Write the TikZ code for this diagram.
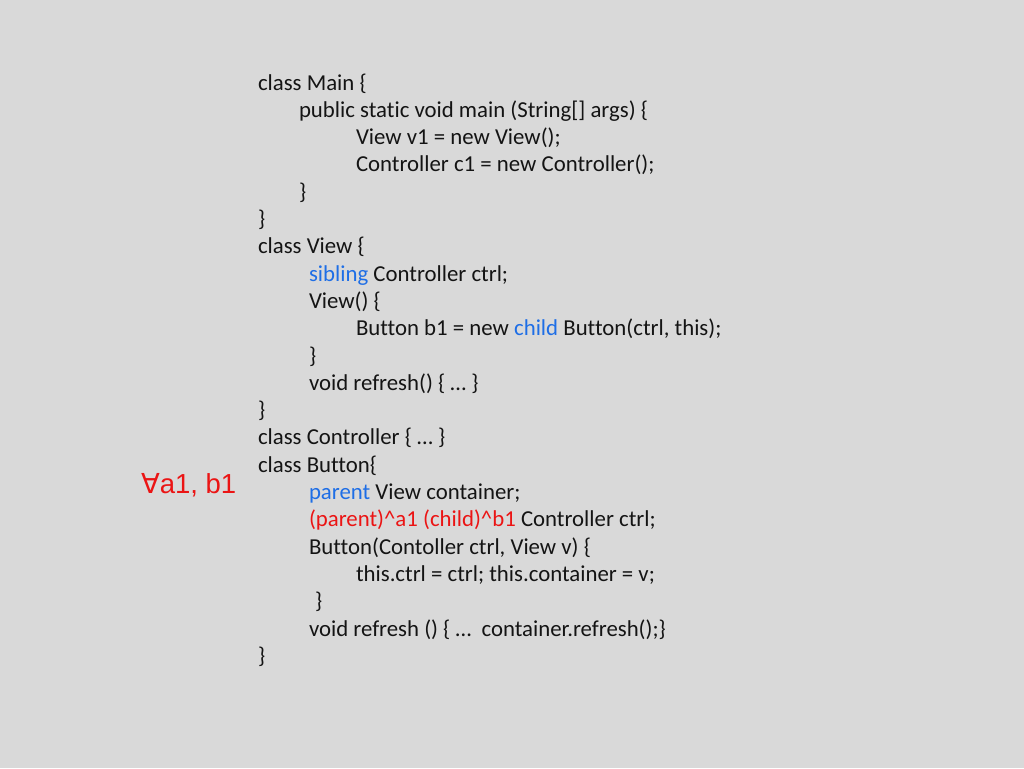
\documentclass[tikz,border=0pt]{standalone}
\usepackage{fontspec}
\setmainfont{Carlito}[RawFeature={-liga;-clig;-calt;-dlig}]
\newfontfamily\arialf{Liberation Sans}
\newfontfamily\dejavuf{DejaVu Sans}
\definecolor{bgcol}{RGB}{217,217,217}
\definecolor{txtcol}{RGB}{20,20,20}
\definecolor{kwblue}{RGB}{30,110,230}
\definecolor{kwred}{RGB}{235,20,20}
\begin{document}
\begin{tikzpicture}[x=1pt,y=-1pt,
  codeline/.style={anchor=base west,inner sep=0pt,outer sep=0pt,text=txtcol,
    font=\fontsize{22.8}{27.3}\selectfont},
  forall/.style={anchor=base west,inner sep=0pt,outer sep=0pt,text=kwred,
    font=\fontsize{27.5}{31}\selectfont\arialf}]
\fill[bgcol] (0,0) rectangle (1024,768);
\useasboundingbox (0,0) rectangle (1024,768);
\def\ls{27.3}
\node[codeline] (l1)  at (258, 90) {class Main \{};
\node[codeline] (l2)  at (299, 90+1*\ls) {public static void main (String[] args) \{};
\node[codeline] (l3)  at (356, 90+2*\ls) {View v1 = new View();};
\node[codeline] (l4)  at (356, 90+3*\ls) {Controller c1 = new Controller();};
\node[codeline] (l5)  at (299, 90+4*\ls) {\}};
\node[codeline] (l6)  at (258, 90+5*\ls) {\}};
\node[codeline] (l7)  at (258, 90+6*\ls) {class View \{};
\node[codeline] (l8)  at (309, 90+7*\ls) {\textcolor{kwblue}{sibling} Controller ctrl;};
\node[codeline] (l9)  at (309, 90+8*\ls) {View() \{};
\node[codeline] (l10) at (356, 90+9*\ls) {Button b1 = new \textcolor{kwblue}{child} Button(ctrl, this);};
\node[codeline] (l11) at (309, 90+10*\ls) {\}};
\node[codeline] (l12) at (309, 90+11*\ls) {void refresh() \{ … \}};
\node[codeline] (l13) at (258, 90+12*\ls) {\}};
\node[codeline] (l14) at (258, 90+13*\ls) {class Controller \{ … \}};
\node[codeline] (l15) at (258, 90+14*\ls) {class Button\{};
\node[codeline] (l16) at (309, 90+15*\ls) {\textcolor{kwblue}{parent} View container;};
\node[codeline] (l17) at (309, 90+16*\ls) {\textcolor{kwred}{(parent)\^{}a1 (child)\^{}b1} Controller ctrl;};
\node[codeline] (l18) at (309, 90+17*\ls) {Button(Contoller ctrl, View v) \{};
\node[codeline] (l19) at (356, 90+18*\ls) {this.ctrl = ctrl; this.container = v;};
\node[codeline] (l20) at (315, 90+19*\ls) {\}};
\node[codeline] (l21) at (309, 90+20*\ls) {void refresh () \{ …\ \ container.refresh();\}};
\node[codeline] (l22) at (258, 90+21*\ls) {\}};
\node[forall] (fa) at (141, 493) {{\dejavuf ∀}a1, b1};
\end{tikzpicture}
\end{document}
